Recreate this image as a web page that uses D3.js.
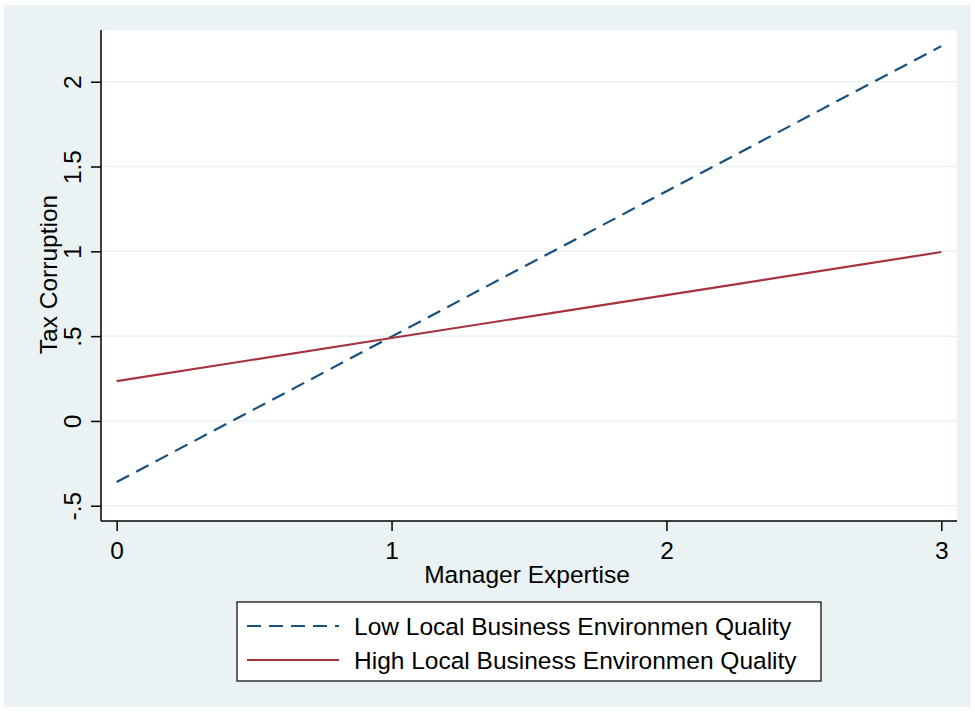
<!DOCTYPE html>
<html>
<head>
<meta charset="utf-8">
<script src="https://cdn.jsdelivr.net/npm/d3@7"></script>
<style>
  body { margin: 0; background: #fff; }
  svg text { font-family: "Liberation Sans", Arial, sans-serif; fill: #000; }
</style>
</head>
<body>
<div id="chart"></div>
<script>
// data
const expertise = [0, 1, 2, 3];
const lowQuality = [-0.36, 0.497, 1.354, 2.21];
const highQuality = [0.235, 0.489, 0.742, 0.996];
const yTicks = [-0.5, 0, 0.5, 1, 1.5, 2];
const yTickLabels = ['-.5', '0', '.5', '1', '1.5', '2'];
const xTicks = [0, 1, 2, 3];
const seriesNames = ['Low Local Business Environmen Quality', 'High Local Business Environmen Quality'];

const width = 975;
const height = 712;
const margin = {top: 30, right: 18, bottom: 191, left: 101};
const fontSize = 24.5;

const svg = d3.select('#chart')
  .append('svg')
    .attr('width', width)
    .attr('height', height);

svg.append('rect')
  .attr('x', 4).attr('y', 5)
  .attr('width', 967).attr('height', 702)
  .attr('fill', '#eaf2f3');

const x = d3.scaleLinear()
  .domain([-0.057, 3.057])
  .range([margin.left, width - margin.right]);

const y = d3.scaleLinear()
  .domain([-0.59, 2.305])
  .range([height - margin.bottom, margin.top]);

svg.append('rect')
  .attr('x', margin.left).attr('y', margin.top)
  .attr('width', x.range()[1] - x.range()[0])
  .attr('height', y.range()[0] - y.range()[1])
  .attr('fill', '#fff');

// gridlines
svg.append('g')
  .selectAll('line')
  .data(yTicks)
  .enter()
    .append('line')
      .attr('x1', x.range()[0])
      .attr('x2', x.range()[1])
      .attr('y1', d => y(d))
      .attr('y2', d => y(d))
      .attr('stroke', '#eaf2f3')
      .attr('stroke-width', 1.5);

// axes
const yAxis = svg.append('g')
  .attr('transform', `translate(${margin.left},0)`)
  .call(d3.axisLeft(y).tickValues(yTicks).tickFormat((d, i) => yTickLabels[i]).tickSize(10).tickSizeOuter(0));

yAxis.select('.domain').attr('stroke', '#000').attr('stroke-width', 1.5)
  .attr('d', `M0,${y.range()[0]}V${y.range()[1]}`);
yAxis.selectAll('.tick line').attr('stroke', '#000').attr('stroke-width', 1.5);
yAxis.selectAll('.tick text')
  .attr('font-size', fontSize)
  .attr('x', 0).attr('dy', 0)
  .attr('text-anchor', 'middle')
  .attr('transform', 'translate(-20,0) rotate(-90)');

const xAxis = svg.append('g')
  .attr('transform', `translate(0,${height - margin.bottom})`)
  .call(d3.axisBottom(x).tickValues(xTicks).tickFormat(d3.format('d')).tickSize(10).tickSizeOuter(0));

xAxis.select('.domain').attr('stroke', '#000').attr('stroke-width', 1.5)
  .attr('d', `M${x.range()[0]},0H${x.range()[1]}`);
xAxis.selectAll('.tick line').attr('stroke', '#000').attr('stroke-width', 1.5);
xAxis.selectAll('.tick text').attr('font-size', fontSize).attr('y', 38).attr('dy', 0);

// axis titles
svg.append('text')
  .attr('x', 527)
  .attr('y', 583)
  .attr('text-anchor', 'middle')
  .attr('font-size', fontSize)
  .text('Manager Expertise');

svg.append('text')
  .attr('transform', `translate(57,${(y.range()[0] + y.range()[1]) / 2 - 1}) rotate(-90)`)
  .attr('text-anchor', 'middle')
  .attr('font-size', fontSize)
  .text('Tax Corruption');

// lines
const line = d3.line()
  .x(d => x(d[0]))
  .y(d => y(d[1]));

const series = [
  {values: lowQuality, color: '#18507f', dash: '14,8'},
  {values: highQuality, color: '#a5343d', dash: null}
];

svg.append('g')
  .selectAll('path')
  .data(series)
  .enter()
    .append('path')
      .attr('d', d => line(expertise.map((e, i) => [e, d.values[i]])))
      .attr('fill', 'none')
      .attr('stroke', d => d.color)
      .attr('stroke-width', 2.2)
      .attr('stroke-dasharray', d => d.dash);

// legend
const legend = svg.append('g');
legend.append('rect')
  .attr('x', 237).attr('y', 602)
  .attr('width', 584).attr('height', 79)
  .attr('fill', '#fff')
  .attr('stroke', '#000')
  .attr('stroke-width', 1.2);

const item = legend.selectAll('g.item')
  .data(series)
  .enter()
    .append('g')
      .attr('class', 'item')
      .attr('transform', (d, i) => `translate(0,${626 + i * 34})`);

item.append('line')
  .attr('x1', 247).attr('x2', 339)
  .attr('stroke', d => d.color)
  .attr('stroke-width', 2.2)
  .attr('stroke-dasharray', d => d.dash);

item.append('text')
  .attr('x', 354)
  .attr('dy', '0.35em')
  .attr('font-size', fontSize)
  .text((d, i) => seriesNames[i]);
</script>
</body>
</html>
